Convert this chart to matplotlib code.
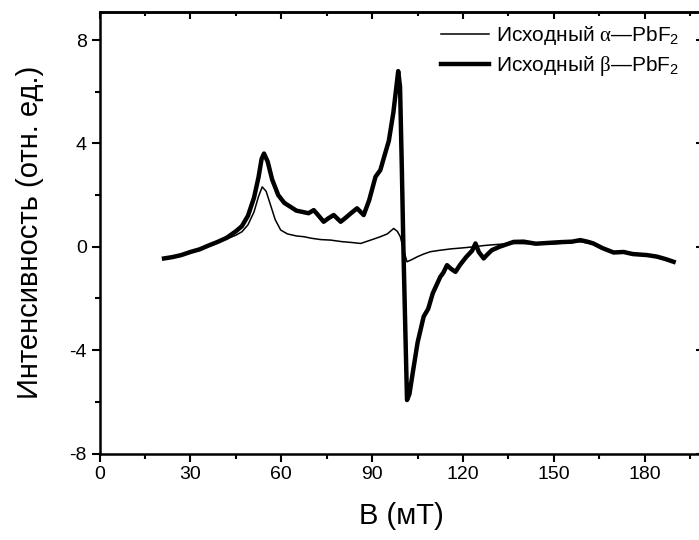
import matplotlib
matplotlib.use('Agg')
import matplotlib.pyplot as plt
from matplotlib.ticker import MultipleLocator

plt.rcParams['font.family'] = ['Liberation Sans', 'DejaVu Sans']
plt.rcParams['mathtext.fontset'] = 'custom'
plt.rcParams['mathtext.rm'] = 'Liberation Sans'
plt.rcParams['mathtext.it'] = 'Liberation Serif'
plt.rcParams['axes.unicode_minus'] = False

# исходный beta-PbF2 (толстая линия)
b_beta = [21.3, 24, 27, 30, 33, 36, 39, 42, 45, 47, 49, 51, 52.5, 53.5, 54.3, 55.5, 57, 59, 61, 63,
          65, 67, 69, 70.7, 72, 74, 75.5, 77.3, 79.6, 81, 83, 85, 87.2, 89, 91.1, 92.7, 94, 95.5, 97,
          98.2, 98.6, 99.2, 99.8, 100.3, 100.9, 101.5, 102.3, 103.5, 105, 107, 108.5, 110, 112.5,
          113.5, 114.7, 116, 117.5, 119, 121, 123, 124.1, 125.2, 126.8, 128, 129.5, 132, 136.7, 140,
          144, 148, 152, 156, 158.7, 161, 163, 166, 169.7, 173, 176, 180.7, 184, 187, 189.5]
i_beta = [-0.45, -0.40, -0.32, -0.20, -0.10, 0.05, 0.19, 0.35, 0.60, 0.80, 1.20, 1.90, 2.70, 3.40,
          3.61, 3.30, 2.60, 2.00, 1.70, 1.55, 1.40, 1.35, 1.30, 1.42, 1.25, 0.97, 1.10, 1.23, 0.97,
          1.10, 1.30, 1.49, 1.23, 1.80, 2.71, 2.97, 3.50, 4.10, 5.20, 6.40, 6.80, 6.20, 3.00, 0.00,
          -3.00, -5.93, -5.70, -4.80, -3.70, -2.70, -2.40, -1.80, -1.16, -1.00, -0.71, -0.85, -0.97,
          -0.70, -0.40, -0.15, 0.13, -0.20, -0.45, -0.30, -0.13, 0.00, 0.19, 0.20, 0.12, 0.15, 0.18,
          0.20, 0.26, 0.20, 0.13, -0.05, -0.22, -0.20, -0.28, -0.32, -0.38, -0.48, -0.58]

# исходный alpha-PbF2 (тонкая линия)
b_alpha = [21.3, 24, 27, 30, 33, 36, 39, 42, 45, 47, 49, 51, 52.5, 53.7, 55, 56.5, 58, 59.8, 62, 65,
           67.5, 70, 73, 76.3, 80, 83, 86.2, 88.5, 90.5, 92.7, 95, 97.1, 98.3, 99.3, 100.3, 101.5,
           103, 105, 107, 109.2, 112, 116, 120, 123.5, 127, 130, 136, 142, 148, 154, 158.7, 163, 166,
           169.7, 175, 180.7, 185, 189.5]
i_alpha = [-0.45, -0.40, -0.32, -0.20, -0.10, 0.05, 0.17, 0.30, 0.45, 0.58, 0.85, 1.35, 1.95, 2.32,
           2.15, 1.60, 1.05, 0.65, 0.50, 0.42, 0.39, 0.33, 0.28, 0.26, 0.20, 0.17, 0.13, 0.22, 0.30,
           0.39, 0.50, 0.71, 0.60, 0.39, -0.10, -0.58, -0.50, -0.38, -0.28, -0.19, -0.14, -0.08, -0.04,
           0.00, 0.05, 0.08, 0.13, 0.12, 0.10, 0.15, 0.20, 0.10, -0.05, -0.20, -0.25, -0.30, -0.40, -0.55]

labels = [r'Исходный $\alpha$—PbF$_2$', r'Исходный $\beta$—PbF$_2$']

fig = plt.figure(figsize=(6.99, 5.40), dpi=100)
ax = fig.add_axes([99.5/699, 86.5/540, (703-99.5)/699, (453.5-11.7)/540])

ax.plot(b_alpha, i_alpha, color='black', lw=1.1, label=labels[0])
ax.plot(b_beta, i_beta, color='black', lw=3.2, label=labels[1])

ax.set_xlim(0, 199.2)
ax.set_ylim(-8, 9.1)
ax.xaxis.set_major_locator(MultipleLocator(30))
ax.xaxis.set_minor_locator(MultipleLocator(15))
ax.yaxis.set_major_locator(MultipleLocator(4))
ax.yaxis.set_minor_locator(MultipleLocator(2))
ax.tick_params(which='major', direction='out', length=6, width=1.5, labelsize=14, pad=3)
ax.tick_params(which='minor', direction='out', length=3.5, width=1.5)
for s in ax.spines.values():
    s.set_linewidth(1.8)

# зеркальные засечки сверху и справа (внутрь)
top = ax.secondary_xaxis('top')
top.xaxis.set_major_locator(MultipleLocator(30))
top.xaxis.set_minor_locator(MultipleLocator(15))
top.tick_params(which='major', direction='in', length=5, width=1.5, labeltop=False)
top.tick_params(which='minor', direction='in', length=3, width=1.5)
top.spines['top'].set_linewidth(1.8)
right = ax.secondary_yaxis('right')
right.yaxis.set_major_locator(MultipleLocator(4))
right.yaxis.set_minor_locator(MultipleLocator(2))
right.tick_params(which='major', direction='in', length=5, width=1.5, labelright=False)
right.tick_params(which='minor', direction='in', length=3, width=1.5)

ax.set_xlabel('B (мТ)', fontsize=21, labelpad=14)
ax.set_ylabel('Интенсивность (отн. ед.)', fontsize=21, labelpad=18)

ax.legend(loc='upper left', bbox_to_anchor=(441/699, 1 - 24/540), bbox_transform=fig.transFigure,
          frameon=False, fontsize=15, handlelength=2.3, handletextpad=0.35, labelspacing=0.35,
          borderpad=0, borderaxespad=0)

fig.savefig('out.png', dpi=100)
